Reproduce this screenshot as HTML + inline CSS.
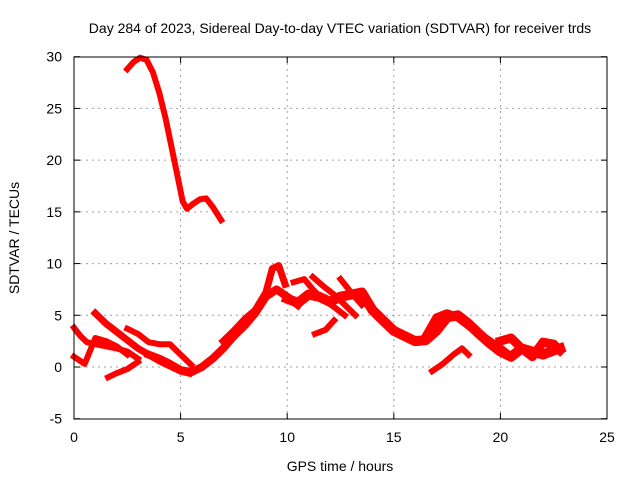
<!DOCTYPE html>
<html><head><meta charset="utf-8"><style>
body{margin:0;background:#fff}
svg{display:block;font-family:"Liberation Sans",sans-serif;font-size:14px}
</style></head><body>
<svg id="chart" width="640" height="480">
<text x="340" y="33" text-anchor="middle">Day 284 of 2023, Sidereal Day-to-day VTEC variation (SDTVAR) for receiver trds</text>
<text x="340" y="471" text-anchor="middle">GPS time / hours</text>
<text transform="translate(19,238) rotate(-90)" text-anchor="middle">SDTVAR / TECUs</text>
<g id="grid"></g><g id="ticks"></g><g id="marks"></g>
<rect x="74" y="57" width="533" height="362" fill="none" stroke="#000" stroke-width="1"/>
</svg>
<script>
const xTicks=[0,5,10,15,20,25];
const yTicks=[-5,0,5,10,15,20,25,30];
const t1x=[2.5,2.8,3.1,3.4,3.7,4.0,4.3,4.6,4.9,5.1,5.3,5.6,5.9,6.2,6.5,6.9];
const t1y=[28.8,29.5,29.9,29.7,28.5,26.5,24,21,18,16,15.3,15.8,16.2,16.3,15.5,14.2];
const t2x=[0,0.3,0.6,1.0,1.5,2.0,2.5,3.0];
const t2y=[3.8,3.0,2.4,2.2,2.0,1.8,1.5,0.8];
const t3x=[0,0.5,1.0,1.5,2.0,2.5];
const t3y=[1.0,0.3,2.8,2.5,2.0,1.2];
const t4x=[1.6,2.0,2.5,3.0];
const t4y=[-1,-0.6,-0.2,0.5];
const t5x=[3.5,4.0,4.5,5.0,5.5,6.0,6.5,7.0,7.5,8.0,8.5,9.0,9.5,10.0,10.5];
const t5y=[1.2,0.8,0.3,-0.3,-0.5,0,0.8,1.8,3,4,5.2,6.8,7.5,6.8,6.0];
const t6x=[7,7.5,8,8.5,9,9.3,9.6,9.9];
const t6y=[2.5,3.5,4.6,5.5,7.2,9.5,9.8,8.0];
const t7x=[1.0,1.5,2.0,2.5,3.0,3.5,4.0,4.5,5.0,5.4];
const t7y=[5.2,4.2,3.4,2.6,1.8,1.2,0.6,0.1,-0.4,-0.6];
const t8x=[2.5,3.0,3.5,4.0,4.5,5.0,5.5];
const t8y=[3.7,3.2,2.4,2.2,2.2,1.2,0.2];
const t9x=[10,10.5,11,11.5,12,12.5,13,13.5,14,14.5,15,15.5,16,16.5,17,17.5,18,18.5,19,19.5,20,20.5,21,21.5,22,22.5,22.8];
const t9y=[6.6,6.2,7.0,6.8,6.3,6.8,7.0,7.2,5.5,4.5,3.5,3.0,2.5,2.6,3.5,4.8,5.0,4.2,3.2,2.3,1.5,1.0,1.8,1.5,1.2,1.6,1.8];
const t10x=[10.3,10.8,11.2,11.7,12.2,12.7];
const t10y=[8.2,8.5,7.5,6.5,5.8,5.0];
const t11x=[11.2,11.7,12.2,12.7,13.2];
const t11y=[8.7,7.8,7,6,5];
const t12x=[12.5,13,13.5];
const t12y=[8.5,7.2,6.0];
const t13x=[16.8,17.3,17.8,18.2,18.5];
const t13y=[-0.4,0.3,1.2,1.8,1.2];
const t14x=[16.5,17,17.5,18,18.5,19,19.5,20,20.5];
const t14y=[3,4.8,5.2,4.8,4.0,3.2,2.5,1.8,1.0];
const t15x=[20,20.5,21,21.5,22,22.5,22.8];
const t15y=[2.5,2.8,1.8,1.0,2.4,2.2,1.6];
const t16x=[11.3,11.8,12.2];
const t16y=[3.2,3.6,4.5];

const NS='http://www.w3.org/2000/svg';
function sx(v){return 74+v*533/25;}
function sy(v){return 367-v*362/35;}
const grid=document.getElementById('grid'),ticks=document.getElementById('ticks'),marks=document.getElementById('marks');
function mk(tag,attrs,parent){const e=document.createElementNS(NS,tag);for(const k in attrs)e.setAttribute(k,attrs[k]);parent.appendChild(e);return e;}
xTicks.forEach(t=>{
  const X=sx(t);
  if(t>0&&t<25){const g=mk('line',{x1:X,x2:X,y1:57,y2:419,stroke:'#a0a0a0','stroke-dasharray':'2,4'},grid);
  
  }
  mk('line',{x1:X,x2:X,y1:419,y2:413,stroke:'#000'},ticks);
  mk('line',{x1:X,x2:X,y1:57,y2:63,stroke:'#000'},ticks);
  const l=mk('text',{x:X,y:442,'text-anchor':'middle'},ticks);l.textContent=t;
  
  
});
yTicks.forEach(t=>{
  const Y=sy(t);
  if(t>-5&&t<30){const g=mk('line',{x1:74,x2:607,y1:Y,y2:Y,stroke:'#a0a0a0','stroke-dasharray':'2,4'},grid);
  
  }
  mk('line',{x1:74,x2:80,y1:Y,y2:Y,stroke:'#000'},ticks);
  mk('line',{x1:607,x2:601,y1:Y,y2:Y,stroke:'#000'},ticks);
  const l=mk('text',{x:62,y:Y+5,'text-anchor':'end'},ticks);l.textContent=t;
  
  
});
const traces=[[t1x,t1y,6],[t2x,t2y,6],[t3x,t3y,6],[t4x,t4y,6],[t5x,t5y,8],[t6x,t6y,7],[t7x,t7y,7],[t8x,t8y,6],[t9x,t9y,10],[t10x,t10y,6],[t11x,t11y,6],[t12x,t12y,6],[t13x,t13y,6],[t14x,t14y,8],[t15x,t15y,9],[t16x,t16y,6]];
traces.forEach(([xs,ys,w])=>{
  const pts=xs.map((x,i)=>sx(x).toFixed(1)+','+sy(ys[i]).toFixed(1)).join(' ');
  const p=mk('polyline',{points:pts,fill:'none',stroke:'#ff0000','stroke-width':w,'stroke-linejoin':'round','stroke-linecap':'square'},marks);
  
  
});
</script>
</body></html>
